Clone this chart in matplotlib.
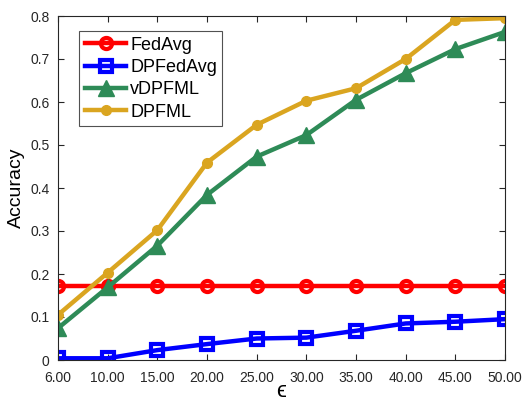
import matplotlib
matplotlib.use('Agg')
import matplotlib.pyplot as plt

plt.rcParams['font.family'] = ['Liberation Sans', 'DejaVu Sans']

eps_labels = ['6.00', '10.00', '15.00', '20.00', '25.00',
              '30.00', '35.00', '40.00', '45.00', '50.00']
fedavg = [0.173] * 10
dpfedavg = [0.004, 0.004, 0.023, 0.037, 0.050, 0.052, 0.068, 0.085, 0.089, 0.095]
vdpfml = [0.074, 0.169, 0.266, 0.384, 0.473, 0.523, 0.605, 0.667, 0.723, 0.763]
dpfml = [0.105, 0.203, 0.302, 0.459, 0.547, 0.603, 0.632, 0.700, 0.791, 0.795]

x = list(range(len(eps_labels)))

fig = plt.figure(figsize=(5.24, 4.03), dpi=100)
ax = fig.add_axes([58 / 524, 1 - 360 / 403, 447 / 524, 344 / 403])

lw = 3.2
ax.plot(x, fedavg, '-o', color='#ff0000', lw=lw, ms=8, mfc='none', mew=3,
        label='FedAvg')
ax.plot(x, dpfedavg, '-s', color='#0000ff', lw=lw, ms=8, mfc='none', mew=3,
        label='DPFedAvg')
ax.plot(x, vdpfml, '-^', color='#2e8b57', lw=lw, ms=11, label='vDPFML')
ax.plot(x, dpfml, '-o', color='#daa520', lw=lw, ms=7, label='DPFML')

ax.set_xlim(0, 9)
ax.set_ylim(0, 0.8)
ax.set_xticks(x)
ax.set_xticklabels(eps_labels)
ax.set_yticks([0, 0.1, 0.2, 0.3, 0.4, 0.5, 0.6, 0.7, 0.8])
ax.set_yticklabels(['0', '0.1', '0.2', '0.3', '0.4', '0.5', '0.6', '0.7', '0.8'])
ax.tick_params(direction='in', top=True, right=True, labelsize=10,
               colors='#262626', length=4)
ax.tick_params(axis='x', pad=8)
ax.tick_params(axis='y', pad=6)
for s in ax.spines.values():
    s.set_color('#262626')
    s.set_linewidth(0.8)
ax.set_ylabel('Accuracy', fontsize=14, labelpad=4)
ax.set_xlabel('ϵ', fontsize=16, labelpad=-3)

leg = ax.legend(loc='upper left', bbox_to_anchor=(0.048, 0.956), fontsize=13,
                handlelength=2.3, frameon=True, fancybox=False,
                edgecolor='#262626', borderpad=0.3, labelspacing=0.3,
                handletextpad=0.2, borderaxespad=0)
leg.get_frame().set_linewidth(0.8)

fig.savefig('out.png', dpi=100)
